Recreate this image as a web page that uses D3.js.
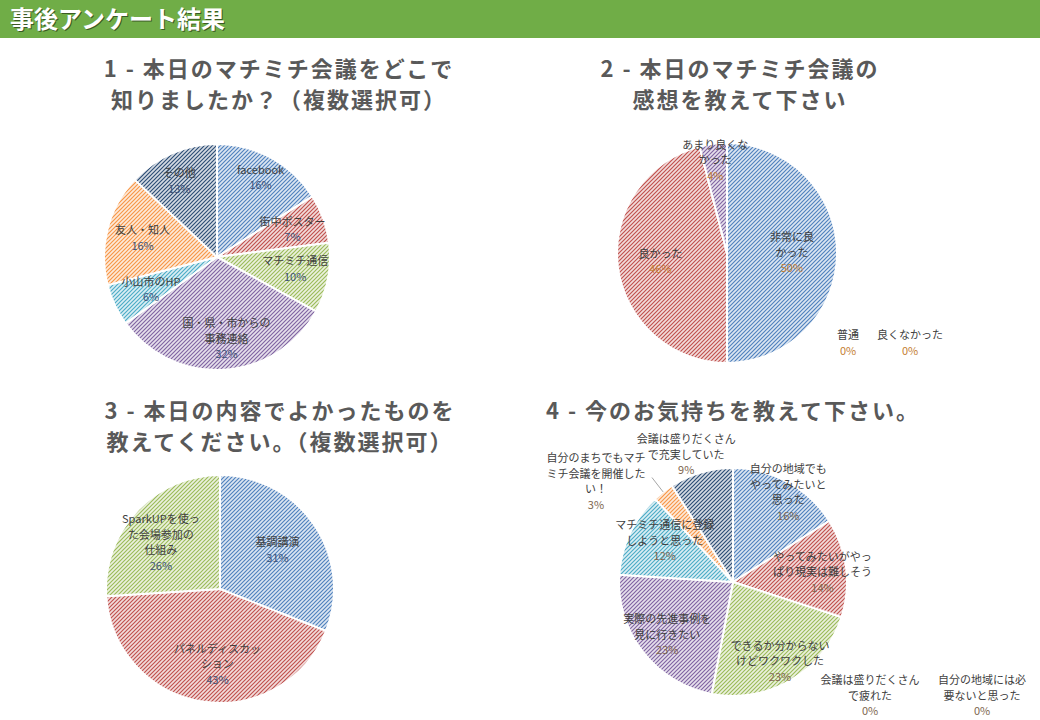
<!DOCTYPE html>
<html><head><meta charset="utf-8">
<script src="https://cdn.jsdelivr.net/npm/d3@7"></script>
<style>body{margin:0;background:#fff}svg{display:block}</style>
</head><body>
<svg id="chart" width="1040" height="720"></svg>
<script>
// ---------- data ----------
const headerTitle = "事後アンケート結果";

const q1Title = ["1 - 本日のマチミチ会議をどこで", "知りましたか？（複数選択可）"];
const q1Categories = ["facebook", "街中ポスター", "マチミチ通信", "国・県・市からの\n事務連絡", "小山市のHP", "友人・知人", "その他"];
const q1Values = [16, 7, 10, 32, 6, 16, 13];

const q2Title = ["2 - 本日のマチミチ会議の", "感想を教えて下さい"];
const q2Categories = ["非常に良\nかった", "良かった", "普通", "あまり良くな\nかった", "良くなかった"];
const q2Values = [50, 46, 0, 4, 0];

const q3Title = ["3 - 本日の内容でよかったものを", "教えてください。（複数選択可）"];
const q3Categories = ["基調講演", "パネルディスカッ\nション", "SparkUPを使っ\nた会場参加の\n仕組み"];
const q3Values = [31, 43, 26];

const q4Title = ["4 - 今のお気持ちを教えて下さい。"];
const q4Categories = ["自分の地域でも\nやってみたいと\n思った", "やってみたいがやっ\nぱり現実は難しそう", "できるか分からない\nけどワクワクした", "実際の先進事例を\n見に行きたい", "マチミチ通信に登録\nしようと思った", "自分のまちでもマチ\nミチ会議を開催した\nい！", "会議は盛りだくさん\nで充実していた", "会議は盛りだくさん\nで疲れた", "自分の地域には必\n要ないと思った"];
const q4Values = [16, 14, 23, 23, 12, 3, 9, 0, 0];

// ---------- style / layout ----------
const palette = ["#4F81BD", "#C0504D", "#9BBB59", "#8064A2", "#4BACC6", "#F79646", "#2C4D75", "#772C2A", "#5F7530"];
const FONT = "'Noto Sans CJK JP','Noto Sans',sans-serif";

const charts = [
  { title: q1Title, cats: q1Categories, vals: q1Values, cx: 217, cy: 257, r: 113, tx: 279, ty: 77,
    lab: [[0.80, 0], [0.71, 0], [0.70, -2], [0.73, -3], [0.65, -1], [0.68, 0], [0.75, -3]],
    pct: "#3E5378" },
  { title: q2Title, cats: q2Categories, vals: q2Values, cx: 727, cy: 253, r: 110, tx: 740, ty: 77,
    lab: [[0.59, 0], [0.61, 0], null, [0.85, 0], null],
    zero: [[121, 90], [183, 90]], pct: "#C47E34" },
  { title: q3Title, cats: q3Categories, vals: q3Values, cx: 220, cy: 589, r: 114, tx: 280, ty: 419,
    lab: [[0.61, 0], [0.66, -7], [0.66, -5]], pct: "#3E5378" },
  { title: q4Title, cats: q4Categories, vals: q4Values, cx: 733, cy: 582, r: 114, tx: 733, ty: 419,
    lab: [[0.92, 3], [0.79, 1], [0.81, 0], [0.74, -1], [0.70, 6], [1.49, -16], [1.19, -4], null, null],
    leader: [5], zero: [[137, 114], [249, 114]], pct: "#7E6650" }
];

const svg = d3.select("#chart");
const defs = svg.append("defs");

// hatch patterns
palette.forEach((c, i) => {
  const p = defs.append("pattern").attr("id", "hatch" + i)
    .attr("patternUnits", "userSpaceOnUse").attr("width", 4).attr("height", 4);
  p.append("rect").attr("width", 4).attr("height", 4).attr("fill", d3.interpolateRgb(c, "#ffffff")(0.8));
  p.append("path").attr("d", "M-1,1 l2,-2 M0,4 l4,-4 M3,5 l2,-2")
    .attr("stroke", c).attr("stroke-width", 1.15);
});

// header
svg.append("rect").attr("x", 0).attr("y", 0).attr("width", 1040).attr("height", 38).attr("fill", "#70AD47");
svg.append("text").attr("x", 11).attr("y", 29).attr("font-family", FONT).attr("font-weight", "bold")
  .attr("font-size", 24).attr("fill", "#3a5a24").text(headerTitle);
svg.append("text").attr("x", 10).attr("y", 28).attr("font-family", FONT).attr("font-weight", "bold")
  .attr("font-size", 24).attr("fill", "#ffffff").text(headerTitle);

const rad = Math.PI / 180;

charts.forEach(ch => {
  const g = svg.append("g");
  // title
  ch.title.forEach((t, i) => {
    g.append("text").attr("x", ch.tx).attr("y", ch.ty + i * 31)
      .attr("text-anchor", "middle").attr("font-family", FONT).attr("font-weight", "bold")
      .attr("font-size", 22).attr("letter-spacing", "2px").attr("fill", "#595959").text(t);
  });

  const total = d3.sum(ch.vals);
  const pie = d3.pie().sort(null).value(d => d)(ch.vals);
  const arc = d3.arc().innerRadius(0).outerRadius(ch.r);
  const pg = g.append("g").attr("transform", `translate(${ch.cx},${ch.cy})`);

  pg.selectAll("path").data(pie).join("path")
    .attr("d", arc)
    .attr("fill", (d, i) => `url(#hatch${i})`)
    .attr("stroke", "#ffffff").attr("stroke-width", 2).attr("stroke-linejoin", "round");

  let zi = 0;
  pie.forEach((d, i) => {
    const lines = ch.cats[i].split("\n");
    const pctText = Math.round(d.value / total * 100) + "%";
    let x, y;
    if (d.value === 0) {
      if (!ch.zero) return;
      const z = ch.zero[zi++];
      x = z[0]; y = z[1];
    } else {
      const L = ch.lab[i];
      const a = (d.startAngle + d.endAngle) / 2 + L[1] * rad;
      x = Math.sin(a) * ch.r * L[0];
      y = -Math.cos(a) * ch.r * L[0];
      if (ch.leader && ch.leader.includes(i)) {
        const m = (d.startAngle + d.endAngle) / 2;
        pg.append("line")
          .attr("x1", Math.sin(m) * ch.r * 1.0).attr("y1", -Math.cos(m) * ch.r * 1.0)
          .attr("x2", Math.sin(m) * ch.r * 1.16).attr("y2", -Math.cos(m) * ch.r * 1.16)
          .attr("stroke", "#A6A6A6").attr("stroke-width", 1);
      }
    }
    const lh = 15.5;
    const n = lines.length + 1;
    const y0 = y - (n - 1) * lh / 2;
    const t = pg.append("text").attr("text-anchor", "middle").attr("font-family", FONT)
      .attr("font-size", 11).attr("fill", "#404040");
    lines.forEach((ln, k) => {
      t.append("tspan").attr("x", x).attr("y", y0 + k * lh).attr("dy", "0.35em").text(ln);
    });
    t.append("tspan").attr("x", x).attr("y", y0 + lines.length * lh).attr("dy", "0.35em")
      .attr("fill", ch.pct).text(pctText);
  });
});
</script>
</body></html>
